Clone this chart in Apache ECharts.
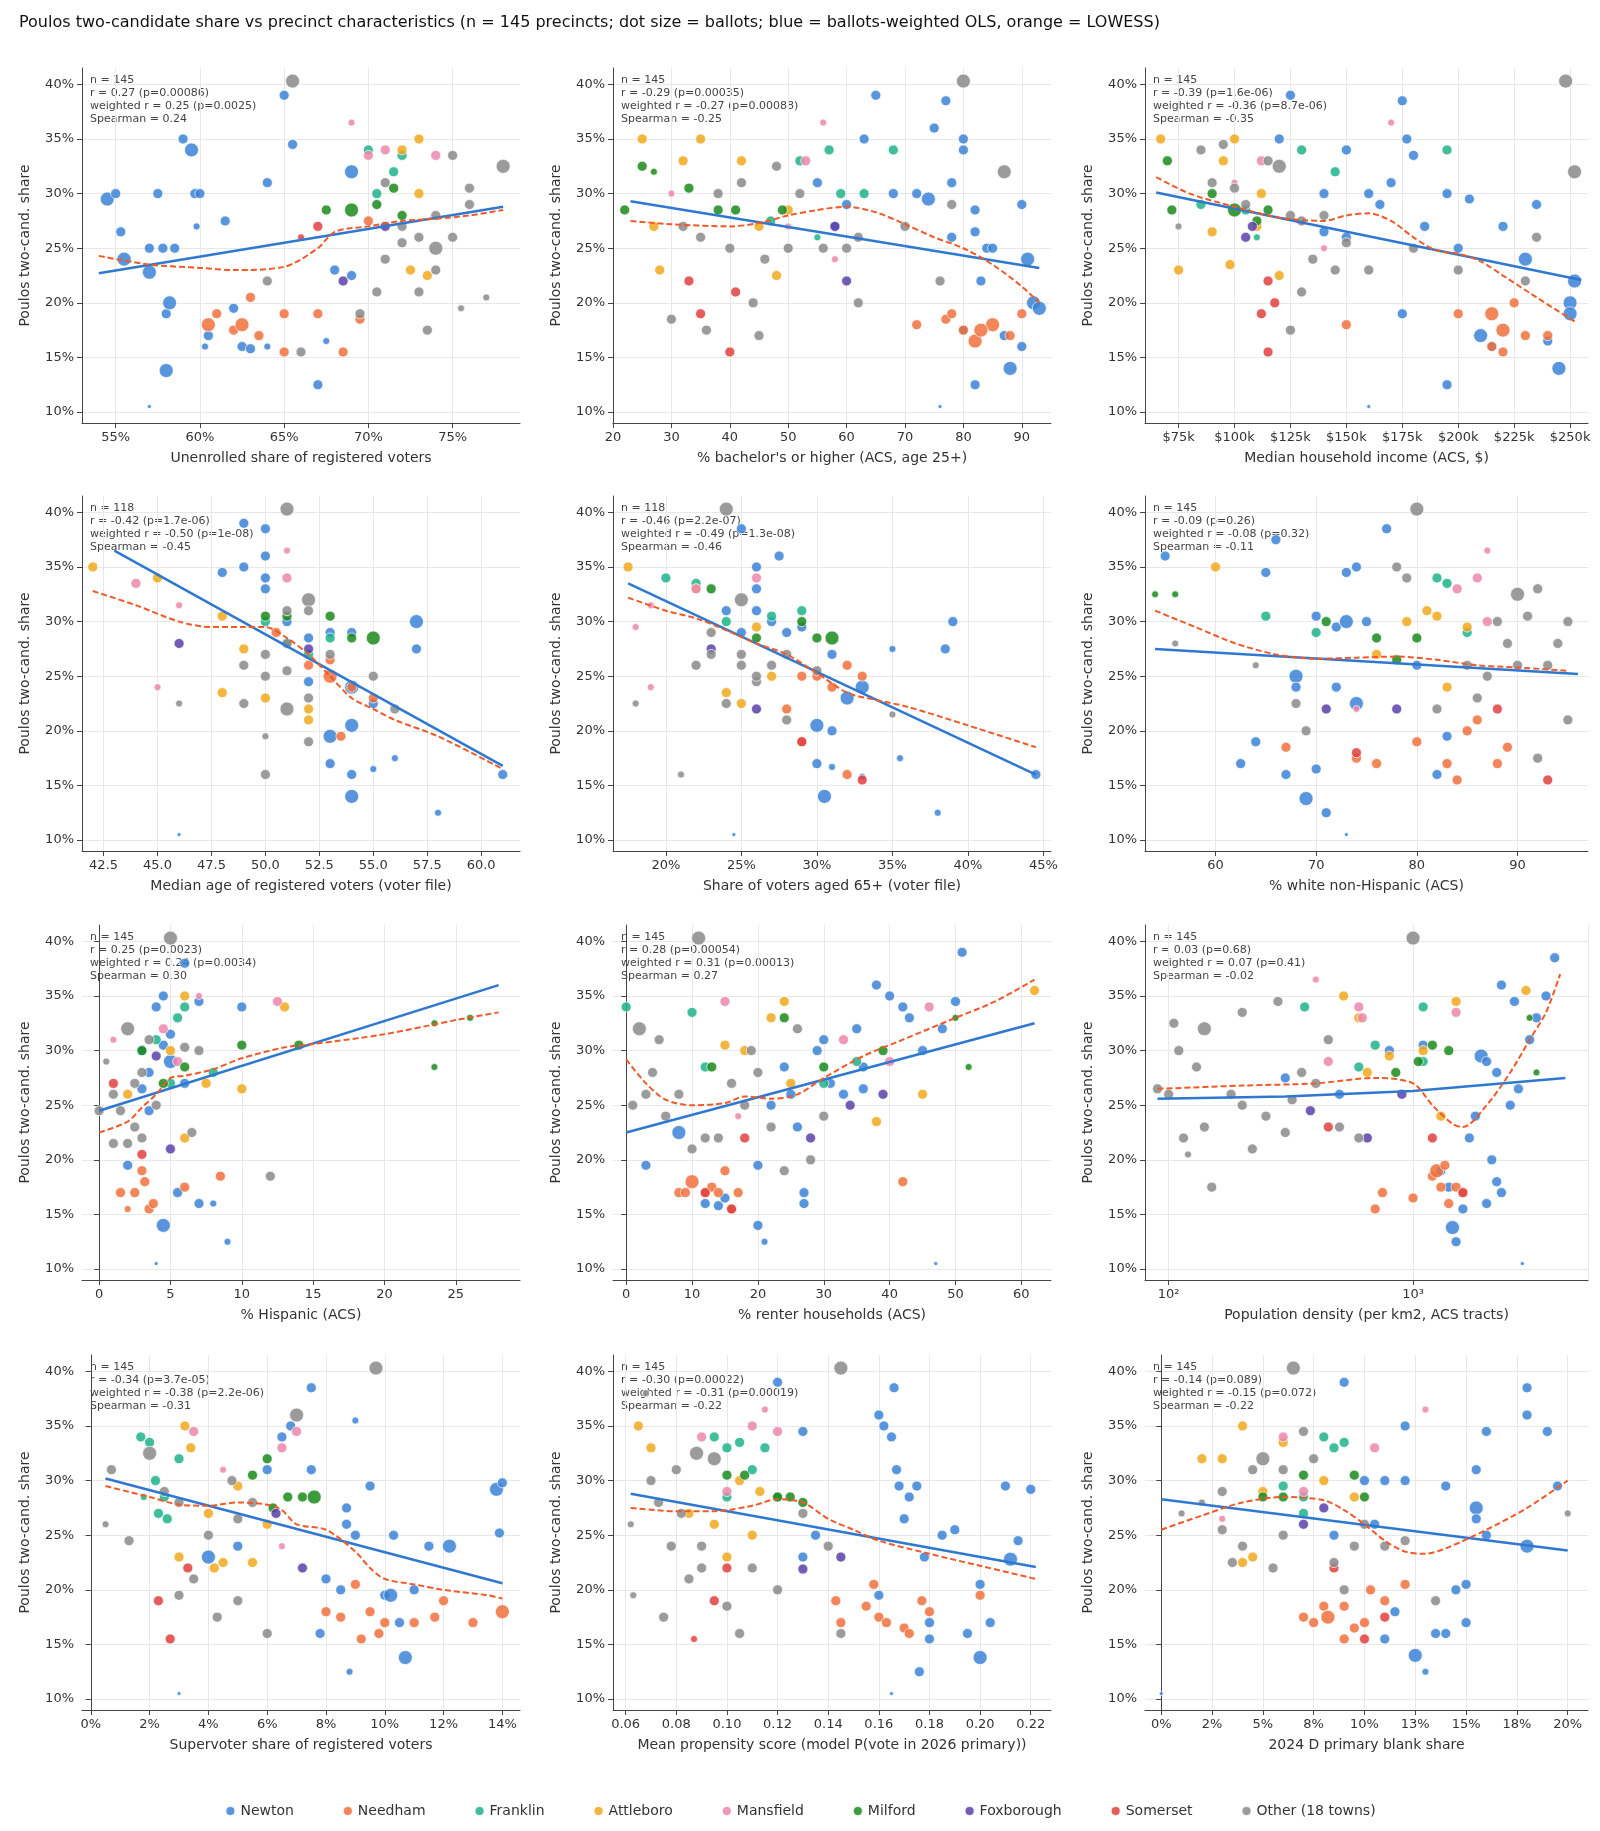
<!DOCTYPE html>
<html><head><meta charset="utf-8">
<script src="https://cdn.jsdelivr.net/npm/echarts@6/dist/echarts.min.js"></script>
<style>html,body{margin:0;padding:0;background:#fff}#c{width:1600px;height:1831px}</style>
</head><body><div id="c"></div>
<script>
var towns = ['Newton','Needham','Franklin','Attleboro','Mansfield','Milford','Foxborough','Somerset','Other (18 towns)'];
var townColors = ['#3b82d6','#f0703c','#1fb28a','#f0a81c','#ec87ae','#1a8a1a','#5a3fa8','#e04040','#8a8a8a'];

// each panel: points grouped by town, [x, y (%), size class]
var p1 = [
 [[54.5,29.5,3],[55,30,2],[55.3,26.5,2],[55.5,24,3],[57,22.8,3],[57,25,2],[57.5,30,2],[57.8,25,2],[58,19,2],[58,13.8,3],[58.2,20,3],[58.5,25,2],[59,35,2],[59.5,34,3],[59.7,30,2],[59.8,27,1],[60,30,2],[60.3,16,1],[60.5,17,2],[61.5,27.5,2],[62,19.5,2],[62.5,16,2],[63,15.8,2],[64,31,2],[64,16,1],[65.5,34.5,2],[65,39,2],[67,12.5,2],[67.5,16.5,1],[68,23,2],[69,32,3],[69,22.5,2],[57,10.5,0.5]],
 [[60.5,18,3],[61,19,2],[62,17.5,2],[62.5,18,3],[63,20.5,2],[63.5,17,2],[65,15.5,2],[65,19,2],[67,19,2],[68.5,15.5,2],[69.5,18.5,2],[70,27.5,2]],
 [[70,34,2],[72,33.5,2],[70.5,30,2],[71.5,32,2]],
 [[72,34,2],[73,35,2],[72.5,23,2],[73.5,22.5,2],[73,30,2]],
 [[69,36.5,1],[70,33.5,2],[71,34,2],[74,33.5,2]],
 [[67.5,28.5,2],[69,28.5,3],[71.5,30.5,2],[72,28,2],[70.5,29,2]],
 [[68.5,22,2],[71,27,2]],
 [[66,26,1],[67,27,2]],
 [[65.5,40.3,3],[71,31,2],[72,27,2],[73,26,2],[74,28,2],[74,25,3],[75,26,2],[75,33.5,2],[76,29,2],[76,30.5,2],[77,20.5,1],[78,32.5,3],[72,25.5,2],[73.5,17.5,2],[75.5,19.5,1],[70.5,21,2],[69.5,19,2],[64,22,2],[66,15.5,2],[71,24,2],[73,21,2],[74,23,2]]
];
var p1ols = [[54,22.7],[78,28.8]];
var p1low = [[54,24.3],[57,23.5],[60,23.2],[62,23],[65,23.3],[67,25],[68,26.5],[70,27],[72,27.5],[74,27.7],[76,28],[78,28.5]];

var p2 = [
 [[55,31,2],[60,29,2],[63,35,2],[65,39,2],[68,30,2],[72,30,2],[74,29.5,3],[75,36,2],[77,38.5,2],[78,26,2],[78,31,2],[80,35,2],[80,34,2],[82,28.5,2],[82,26.5,2],[83,22,2],[84,25,2],[85,25,2],[87,17,2],[88,14,3],[90,29,2],[91,24,3],[92,20,3],[93,19.5,3],[90,16,2],[80,17.5,2],[82,12.5,2],[76,10.5,0.5],[58,27,2]],
 [[72,18,2],[77,18.5,2],[78,19,2],[80,17.5,2],[82,16.5,3],[85,18,3],[88,17,2],[90,19,2],[83,17.5,3]],
 [[47,27.5,2],[52,33,2],[57,34,2],[59,30,2],[63,30,2],[68,34,2],[55,26,1]],
 [[25,35,2],[28,23,2],[32,33,2],[35,35,2],[42,33,2],[45,27,2],[50,28.5,2],[48,22.5,2],[27,27,2]],
 [[30,30,1],[50,27,1],[53,33,2],[56,36.5,1],[58,24,1]],
 [[25,32.5,2],[27,32,1],[33,30.5,2],[38,28.5,2],[41,28.5,2],[49,28.5,2],[22,28.5,2]],
 [[60,22,2],[58,27,2]],
 [[33,22,2],[40,15.5,2],[35,19,2],[41,21,2]],
 [[30,18.5,2],[32,27,2],[35,26,2],[36,17.5,2],[38,30,2],[40,25,2],[42,31,2],[44,20,2],[46,24,2],[48,32.5,2],[50,25,2],[52,30,2],[56,25,2],[60,25,2],[62,26,2],[70,27,2],[76,22,2],[78,29,2],[80,40.3,3],[87,32,3],[62,20,2],[45,17,2]]
];
var p2ols = [[23,29.3],[93,23.2]];
var p2low = [[23,27.5],[30,27.2],[40,27],[45,27.3],[50,28],[55,28.5],[60,28.8],[65,28.3],[70,27.2],[75,26],[80,25],[85,23.5],[90,21.5],[93,20]];

var p3 = [
 [[120,35,2],[125,39,2],[140,30,2],[150,34,2],[160,30,2],[165,29,2],[170,31,2],[175,38.5,2],[177,35,2],[180,33.5,2],[185,27,2],[195,30,2],[200,25,2],[205,29.5,2],[210,17,3],[215,16,2],[220,27,2],[230,24,3],[235,29,2],[240,16.5,2],[245,14,3],[250,20,3],[250,19,3],[252,22,3],[195,12.5,2],[160,10.5,0.5],[175,19,2],[150,26,2],[140,26.5,2]],
 [[150,18,2],[200,19,2],[215,19,3],[215,16,2],[220,17.5,3],[225,20,2],[230,17,2],[240,17,2],[220,15.5,2]],
 [[85,29,2],[105,28.5,2],[130,34,2],[145,32,2],[195,34,2],[110,26,1]],
 [[67,35,2],[75,23,2],[90,26.5,2],[95,33,2],[100,35,2],[98,23.5,2],[110,27,2],[120,22.5,2],[112,30,2]],
 [[100,31,1],[112,33,2],[170,36.5,1],[140,25,1]],
 [[70,33,2],[90,30,2],[100,28.5,3],[110,27.5,2],[115,28.5,2],[72,28.5,2]],
 [[105,26,2],[108,27,2]],
 [[112,19,2],[115,15.5,2],[118,20,2],[115,22,2]],
 [[85,34,2],[90,31,2],[95,34.5,2],[100,30.5,2],[105,29,2],[115,33,2],[120,32.5,3],[125,28,2],[130,27.5,2],[135,24,2],[140,28,2],[145,23,2],[150,25.5,2],[160,23,2],[180,25,2],[200,23,2],[230,22,2],[235,26,2],[248,40.3,3],[252,32,3],[75,27,1],[125,17.5,2],[130,21,2]]
];
var p3ols = [[65,30.1],[255,22.1]];
var p3low = [[65,31.5],[80,30],[100,28.8],[120,27.8],[140,27.5],[150,28],[160,28.2],[170,27.5],[180,26],[190,24.8],[200,24.5],[210,23.8],[220,22.5],[235,20.5],[252,18.3]];

var p4 = [
 [[48,34.5,2],[49,35,2],[49,39,2],[50,34,2],[50,33,2],[50,38.5,2],[51,30,2],[52,28.5,2],[52,24.5,2],[53,29,2],[53,19.5,3],[53,17,2],[54,29,2],[54,24,3],[54,20.5,3],[54,16,2],[54,14,3],[55,22.5,2],[55,16.5,1],[56,17.5,1],[57,30,3],[57,27.5,2],[58,12.5,1],[61,16,2],[46,10.5,0.5],[50,36,2]],
 [[50.5,29,2],[52,26,2],[53,25,3],[53,26.5,2],[54,24,2],[55,23,2],[53.5,19.5,2]],
 [[50,30,2],[52,27,2],[53,28.5,2],[51,28,2]],
 [[42,35,2],[45,34,2],[48,30.5,2],[48,23.5,2],[49,27.5,2],[50,23,2],[52,22,2],[52,21,2]],
 [[44,33.5,2],[45,24,1],[46,31.5,1],[51,36.5,1],[51,34,2]],
 [[50,30.5,2],[51,30.5,2],[53,30.5,2],[54,28.5,2],[55,28.5,3]],
 [[46,28,2],[52,27.5,2]],
 [],
 [[46,22.5,1],[49,26,2],[49,22.5,2],[50,25,2],[50,19.5,1],[50,16,2],[51,40.3,3],[51,31,2],[51,28,2],[51,25.5,2],[51,22,3],[52,32,3],[52,31,2],[52,23,2],[53,27,2],[55,25,2],[56,22,2],[52,19,2],[50,27,2]]
];
var p4ols = [[43,36.5],[61,16.8]];
var p4low = [[42,32.8],[44,31.5],[46,30],[47.5,29.5],[49,29.5],[50,29.5],[51,28.5],[52,27],[53,25],[54,23],[55,22],[56,21],[58,19.5],[61,16.5]];

var p5 = [
 [[24,31,2],[25,29,2],[26,33,2],[26,31,2],[27,30,2],[27.5,36,2],[28,29,2],[29,29.5,2],[30,20.5,3],[30,17,2],[30.5,14,3],[31,27,2],[31,20,2],[31,16.7,1],[32,23,3],[33,15.8,1],[33,24,3],[35,27.5,1],[35.5,17.5,1],[38,12.5,1],[38.5,27.5,2],[39,30,2],[44.5,16,2],[24.5,10.5,0.5],[25,38.5,2],[26,35,2]],
 [[28,22,2],[29,19,2],[30,25,2],[31,24,2],[32,26,2],[32,16,2],[33,25,2],[29,25,2]],
 [[20,34,2],[22,33.5,2],[27,30.5,2],[29,31,2],[24,30,2]],
 [[17.5,35,2],[22,33,2],[24,23.5,2],[25,22.5,2],[26,29.5,2],[27,25,2]],
 [[18,29.5,1],[19,24,1],[19,31.5,1],[22,33,2],[26,34,2]],
 [[23,33,2],[29,30,2],[30,28.5,2],[31,28.5,3],[26,28.5,2]],
 [[23,27.5,2],[26,22,2]],
 [[29,19,2],[33,15.5,2]],
 [[18,22.5,1],[21,16,1],[22,26,2],[23,27,2],[24,40.3,3],[25,27,2],[25,26,2],[26,24.5,2],[27,26,2],[28,21,2],[28,27,2],[24,22.5,2],[25,32,3],[26,25,2],[35,21.5,1],[30,25.5,2],[23,29,2]]
];
var p5ols = [[17.5,33.5],[44.5,16]];
var p5low = [[17.5,32.2],[20,31],[22,30.3],[24,29.2],[26,28],[28,27],[30,25.3],[32,23.5],[34,22.8],[36,22.2],[40,20.5],[44.5,18.5]];

var p6 = [
 [[55,36,2],[62.5,17,2],[64,19,2],[65,34.5,2],[66,37.5,2],[67,16,2],[68,25,3],[68,24,2],[69,13.8,3],[70,16.5,2],[70,30.5,2],[71,12.5,2],[72,29.5,2],[72,24,2],[73,30,3],[73,10.5,0.5],[74,35,2],[74,22.5,3],[75,30,2],[77,38.5,2],[80,26,2],[82,16,2],[83,19.5,2],[73,34.5,2]],
 [[67,18.5,2],[74,17.5,2],[76,17,2],[80,19,2],[83,17,2],[84,15.5,2],[85,20,2],[88,17,2],[89,18.5,2],[86,21,2]],
 [[65,30.5,2],[70,29,2],[82,34,2],[83,33.5,2],[85,29,2]],
 [[60,35,2],[76,27,2],[79,30,2],[81,31,2],[82,30.5,2],[83,24,2],[85,29.5,2]],
 [[74,22,1],[84,33,2],[86,34,2],[87,36.5,1],[87,30,2]],
 [[54,32.5,1],[56,32.5,1],[71,30,2],[76,28.5,2],[80,28.5,2],[78,26.5,2]],
 [[71,22,2],[78,22,2]],
 [[74,18,2],[88,22,2],[93,15.5,2]],
 [[56,28,1],[64,26,1],[68,22.5,2],[69,20,2],[78,35,2],[79,34,2],[80,40.3,3],[82,22,2],[85,26,2],[87,25,2],[88,30,2],[89,28,2],[90,32.5,3],[91,30.5,2],[92,33,2],[93,26,2],[94,28,2],[95,30,2],[95,21,2],[92,17.5,2],[90,26,2],[86,23,2]]
];
var p6ols = [[54,27.5],[96,25.2]];
var p6low = [[54,31],[58,29.5],[62,28],[66,27],[70,26.6],[74,26.7],[78,26.8],[82,26.5],[86,26],[90,25.8],[95,25.5]];

var p7 = [
 [[2,19.5,2],[3,26.5,2],[3.5,24.5,2],[3.5,28,2],[4,34,2],[4.5,35,2],[4.5,14,3],[4.5,30.5,2],[5,31.5,2],[5,29,3],[5.5,17,2],[6,27,2],[6,38,2],[7,16,2],[7,34.5,2],[8,16,1],[9,12.5,1],[10,34,2],[4,10.5,0.5],[3,30,2]],
 [[1.5,17,2],[2.5,17,2],[3,19,2],[3.2,18,2],[3.5,15.5,2],[3.8,16,2],[6,17.5,2],[8.5,18.5,2],[2,15.5,1]],
 [[4,31,2],[5.5,33,2],[6,34,2],[8,28,2],[5,27,2]],
 [[2,26,2],[5,30,2],[6,35,2],[7.5,27,2],[10,26.5,2],[13,34,2],[6,22,2]],
 [[1,31,1],[4.5,32,2],[5.5,29,2],[7,35,1],[12.5,34.5,2]],
 [[3,30,2],[4.5,27,2],[6,28.5,2],[10,30.5,2],[14,30.5,2],[23.5,32.5,1],[23.5,28.5,1],[26,33,1]],
 [[4,29.5,2],[5,21,2]],
 [[1,27,2],[3,20.5,2]],
 [[0,24.5,2],[0.5,29,1],[1,21.5,2],[1.5,24.5,2],[2,32,3],[2.5,23,2],[3,28,2],[3,22,2],[3.5,31,2],[4,25,2],[5,40.3,3],[6,30.3,2],[7,30,2],[6.5,22.5,2],[12,18.5,2],[1,26,2],[2,21.5,2],[2.5,27,2]]
];
var p7ols = [[0,24.5],[28,36]];
var p7low = [[0,22.5],[2,23.5],[3,24.8],[4,26],[5,27.5],[6,27.7],[8,28.3],[10,29.3],[13,30.3],[15,30.6],[20,31.5],[25,32.8],[28,33.5]];

var p8 = [
 [[3,19.5,2],[8,22.5,3],[12,16,2],[14,15.8,2],[15,16.5,2],[20,14,2],[21,12.5,1],[22,25,2],[24,28.5,2],[25,26,2],[26,23,2],[27,17,2],[27,16,2],[29,30,2],[30,31,2],[31,27,2],[33,26,2],[35,32,2],[36,28.5,2],[38,36,2],[40,35,2],[42,34,2],[43,33,2],[45,30,2],[48,32,2],[50,34.5,2],[51,39,2],[47,10.5,0.5],[20,19.5,2],[36,26.5,2]],
 [[8,17,2],[9,17,2],[10,18,3],[12,17,2],[13,17.5,2],[14,17,2],[15,19,2],[16,15.5,2],[17,17,2],[42,18,2]],
 [[0,34,2],[10,33.5,2],[12,28.5,2],[30,27,2],[35,29,2]],
 [[15,30.5,2],[18,30,2],[22,33,2],[24,34.5,2],[38,23.5,2],[45,26,2],[62,35.5,2],[25,27,2]],
 [[15,34.5,2],[17,24,1],[33,31,2],[40,29,2],[46,34,2]],
 [[13,28.5,2],[24,33,2],[30,28.5,2],[39,30,2],[50,33,1],[52,28.5,1]],
 [[28,22,2],[34,25,2],[39,26,2]],
 [[12,17,2],[16,15.5,2],[18,22,2]],
 [[1,25,2],[2,32,3],[3,26,2],[4,28,2],[6,24,2],[8,26,2],[10,21,2],[11,40.3,3],[12,22,2],[14,22,2],[16,27,2],[18,25,2],[19,30,2],[20,28,2],[22,23,2],[26,32,2],[28,20,2],[30,24,2],[24,19,2],[5,31,2]]
];
var p8ols = [[0,22.5],[62,32.5]];
var p8low = [[0,29.2],[3,27],[6,25.5],[10,25],[15,25.2],[18,25.8],[22,25.6],[26,26],[30,27.5],[36,29.5],[42,31],[50,33],[56,34.5],[62,36.5]];

var p9 = [
 [[300,27.5,2],[500,26,2],[800,30,2],[1100,30.5,2],[1300,19,2],[1400,17.5,2],[1450,13.8,3],[1500,12.5,2],[1600,15.5,2],[1700,22,2],[1800,24,2],[1900,29.5,3],[2000,29,2],[2100,20,2],[2200,28,2],[2300,36,2],[2500,25,2],[2600,34.5,2],[2700,26.5,2],[3000,31,2],[3200,33,2],[3800,38.5,2],[3500,35,2],[2300,17,2],[2000,16,2],[2800,10.5,0.5],[2200,18,2]],
 [[700,15.5,2],[750,17,2],[1000,16.5,2],[1200,18.5,2],[1250,19,3],[1300,17.5,2],[1400,16,2],[1500,17.5,2],[1350,19.5,2],[1600,17,2]],
 [[360,34,2],[600,28.5,2],[700,30.5,2],[1100,34,2],[1100,29,2]],
 [[520,35,2],[650,28,2],[800,29.5,2],[1100,30,2],[1500,34.5,2],[2900,35.5,2],[1300,24,2],[600,33,2]],
 [[400,36.5,1],[450,29,2],[600,34,2],[620,33,2],[1500,33.5,2]],
 [[850,28,2],[1050,29,2],[1200,30.5,2],[1400,30,2],[3000,33,1],[3200,28,1]],
 [[380,24.5,2],[650,22,2],[900,26,2]],
 [[450,23,2],[1200,22,2],[1600,17,2]],
 [[90,26.5,2],[100,26,2],[105,32.5,2],[110,30,2],[115,22,2],[120,20.5,1],[130,28.5,2],[140,32,3],[150,17.5,2],[180,26,2],[200,25,2],[220,21,2],[250,24,2],[280,34.5,2],[320,25.5,2],[350,28,2],[400,27,2],[450,31,2],[500,23,2],[600,22,2],[1000,40.3,3],[300,22.5,2],[200,33.5,2],[140,23,2]]
];
var p9ols = [[90,25.6],[300,25.8],[1000,26.3],[4200,27.5]];
var p9low = [[90,26.5],[200,26.8],[400,27],[700,27.5],[1000,27],[1200,25],[1450,23.3],[1600,23],[2000,25],[2500,28],[3000,31],[3500,33.5],[4000,37]];

var p10 = [
 [[6,31,2],[6.5,34,2],[6.8,35,2],[7.5,38.5,2],[7.5,31,2],[8,21,2],[8.5,20,2],[8.7,27.5,2],[8.7,26,2],[8.8,12.5,1],[9,35.5,1],[9,25,2],[9.5,29.5,2],[10,19.5,2],[10.2,19.5,3],[10.3,25,2],[10.5,17,2],[10.7,13.8,3],[11,20,2],[11.5,24,2],[12.2,24,3],[13.8,29.2,3],[13.9,25.2,2],[14,29.8,2],[7.8,16,2],[3,10.5,0.5],[4,23,3],[5,24,2]],
 [[8.5,17.5,2],[9,20.5,2],[9.5,18,2],[9.8,16,2],[10,17,2],[11,17,2],[11.7,17.5,2],[12,19,2],[13,17,2],[14,18,3],[8,18,2],[9.2,15.5,2]],
 [[1.7,34,2],[2,33.5,2],[2.2,30,2],[2.5,28.5,2],[2.3,27,2],[2.6,26.5,2],[3,32,2],[1.8,28.5,1]],
 [[3.2,35,2],[3.4,33,2],[3,23,2],[4,27,2],[4.2,22,2],[4.5,22.5,2],[5.5,22.5,2],[5,29.5,2],[6,26,2]],
 [[3.5,34.5,2],[4.5,31,1],[6.5,24,1],[6.5,33,2],[7,34.5,2]],
 [[5.5,30.5,2],[6,32,2],[6.7,28.5,2],[7.2,28.5,2],[7.6,28.5,3],[6.2,27.5,2]],
 [[6.3,27,2],[7.2,22,2]],
 [[2.3,19,2],[2.7,15.5,2],[3.3,22,2]],
 [[0.5,26,1],[0.7,31,2],[1.3,24.5,2],[2,32.5,3],[2.5,29,2],[3,28,2],[3,19.5,2],[3.5,21,2],[4,25,2],[4.3,17.5,2],[5,26.5,2],[5,19,2],[6,16,2],[7,36,3],[9.7,40.3,3],[5.5,28,2],[4.8,30,2]]
];
var p10ols = [[0.5,30.2],[14,20.6]];
var p10low = [[0.5,29.5],[2,28.5],[3,27.8],[4,27.7],[5,28],[6,27.8],[6.5,27.3],[7,26],[8,25.5],[9,23.5],[9.5,22],[10,21],[11,20.5],[12,20],[13.5,19.5],[14,19.2]];

var p11 = [
 [[0.12,39,2],[0.13,34.5,2],[0.13,23,2],[0.135,25,2],[0.16,36,2],[0.162,35,2],[0.165,34,2],[0.166,38.5,2],[0.167,31,2],[0.168,29.5,2],[0.17,26.5,2],[0.172,28.5,2],[0.175,29.5,2],[0.176,12.5,2],[0.178,23,2],[0.18,15.5,2],[0.185,25,2],[0.19,25.5,2],[0.195,16,2],[0.2,13.8,3],[0.2,20.5,2],[0.204,17,2],[0.21,29.5,2],[0.212,22.8,3],[0.215,24.5,2],[0.22,29.2,2],[0.165,10.5,0.5],[0.16,19.5,2],[0.18,17,2]],
 [[0.143,19,2],[0.155,18.5,2],[0.158,20.5,2],[0.16,17.5,2],[0.163,17,2],[0.17,16.5,2],[0.172,16,2],[0.177,19,2],[0.18,18,2],[0.2,19.5,2],[0.145,17,2]],
 [[0.095,34,2],[0.1,33,2],[0.105,33.5,2],[0.11,31,2],[0.1,28.5,2],[0.115,33,2],[0.12,28.5,2]],
 [[0.065,35,2],[0.07,33,2],[0.085,27,2],[0.095,26,2],[0.1,23,2],[0.105,30,2],[0.113,29,2],[0.11,25,2]],
 [[0.09,34,2],[0.1,29,2],[0.11,35,2],[0.115,36.5,1],[0.12,34.5,2]],
 [[0.1,30.5,2],[0.107,30.5,2],[0.12,28.5,2],[0.125,28.5,2],[0.13,28,2]],
 [[0.13,21.9,2],[0.145,23,2]],
 [[0.087,15.5,1],[0.095,19,2],[0.1,22,2]],
 [[0.062,26,1],[0.063,19.5,1],[0.068,38,1],[0.07,30,2],[0.073,28,2],[0.075,17.5,2],[0.08,31,2],[0.082,27,2],[0.085,21,2],[0.088,32.5,3],[0.09,24,2],[0.095,32,3],[0.1,18.5,2],[0.105,16,2],[0.11,22,2],[0.12,20,2],[0.13,27,2],[0.14,24,2],[0.145,40.3,3],[0.145,16,2],[0.078,24,2],[0.09,22,2]]
];
var p11ols = [[0.062,28.8],[0.222,22.1]];
var p11low = [[0.062,27.5],[0.08,27.2],[0.095,27.2],[0.11,27.7],[0.12,28.3],[0.13,28],[0.14,26.5],[0.15,25.5],[0.16,24.5],[0.18,23.3],[0.2,22.2],[0.222,21]];

var p12 = [
 [[0,10.5,0.5],[9,39,2],[10,30,2],[11,30,2],[12,35,2],[12,30,2],[12.5,14,3],[13,12.5,1],[13.5,16,2],[14,29.5,2],[14.5,20,2],[15,17,2],[15,20.5,2],[15.5,31,2],[15.5,27.5,3],[15.5,26.5,2],[16,34.5,2],[16,25,2],[18,38.5,2],[18,36,2],[18,24,3],[19,34.5,2],[19.5,29.5,2],[11,15.5,2],[14,16,2],[10.5,26,2],[8.5,25,2],[11.5,18,2]],
 [[7,17.5,2],[7.5,17,2],[8,18.5,2],[8.2,17.5,3],[9,15.5,2],[9.5,16.5,2],[10,17,2],[10.3,20,2],[11,19,2],[12,20.5,2],[9,18.5,2]],
 [[6,29.5,2],[7,28.5,2],[8,34,2],[8.5,33,2],[9,33.5,2],[7,27,2]],
 [[2,32,2],[3,32,2],[4,35,2],[4,22.5,2],[4.5,23,2],[5,29,2],[6,33.5,2],[8,30,2],[9.5,28.5,2]],
 [[3,26.5,1],[6,34,2],[7,29,2],[10.5,33,2],[13,36.5,1]],
 [[5,28.5,2],[6,28.5,2],[7,30.5,2],[9.5,30.5,2],[10,28.5,2]],
 [[7,26,2],[8,27.5,2]],
 [[8.5,22,2],[10,15.5,2],[11,17.5,2]],
 [[1,27,1],[2,28,1],[3,29,2],[3.5,22.5,2],[4,24,2],[4.5,31,2],[5,32,3],[5.5,22,2],[6,25,2],[6.5,40.3,3],[7,34.5,2],[7.5,32,2],[8.5,22.5,2],[9,20,2],[9.5,24,2],[10,26,2],[11,24,2],[12,24.5,2],[13.5,19,2],[20,27,1],[3,25.5,2],[6,31,2]]
];
var p12ols = [[0,28.3],[20,23.6]];
var p12low = [[0,25.5],[2,26.8],[4,28],[6,28.5],[8,28.2],[9,27.3],[10,26],[11,24.5],[12,23.5],[13,23.3],[14,23.8],[16,25.5],[18,27.5],[20,30]];

var stats = [
 ['n = 145','r = 0.27 (p=0.00086)','weighted r = 0.25 (p=0.0025)','Spearman = 0.24'],
 ['n = 145','r = -0.29 (p=0.00035)','weighted r = -0.27 (p=0.00088)','Spearman = -0.25'],
 ['n = 145','r = -0.39 (p=1.6e-06)','weighted r = -0.36 (p=8.7e-06)','Spearman = -0.35'],
 ['n = 118','r = -0.42 (p=1.7e-06)','weighted r = -0.50 (p=1e-08)','Spearman = -0.45'],
 ['n = 118','r = -0.46 (p=2.2e-07)','weighted r = -0.49 (p=1.3e-08)','Spearman = -0.46'],
 ['n = 145','r = -0.09 (p=0.26)','weighted r = -0.08 (p=0.32)','Spearman = -0.11'],
 ['n = 145','r = 0.25 (p=0.0023)','weighted r = 0.24 (p=0.0034)','Spearman = 0.30'],
 ['n = 145','r = 0.28 (p=0.00054)','weighted r = 0.31 (p=0.00013)','Spearman = 0.27'],
 ['n = 145','r = 0.03 (p=0.68)','weighted r = 0.07 (p=0.41)','Spearman = -0.02'],
 ['n = 145','r = -0.34 (p=3.7e-05)','weighted r = -0.38 (p=2.2e-06)','Spearman = -0.31'],
 ['n = 145','r = -0.30 (p=0.00022)','weighted r = -0.31 (p=0.00019)','Spearman = -0.22'],
 ['n = 145','r = -0.14 (p=0.089)','weighted r = -0.15 (p=0.072)','Spearman = -0.22']
];
var xNames = ['Unenrolled share of registered voters',"% bachelor's or higher (ACS, age 25+)",'Median household income (ACS, $)',
 'Median age of registered voters (voter file)','Share of voters aged 65+ (voter file)','% white non-Hispanic (ACS)',
 '% Hispanic (ACS)','% renter households (ACS)','Population density (per km2, ACS tracts)',
 'Supervoter share of registered voters','Mean propensity score (model P(vote in 2026 primary))','2024 D primary blank share'];
var yTicks = [10,15,20,25,30,35,40];
var blankLabels = {0:'0%',2.5:'2%',5:'5%',7.5:'8%',10:'10%',12.5:'13%',15:'15%',17.5:'18%',20:'20%'};

function range(a,b,s){var r=[];for(var v=a;v<=b+1e-9;v+=s)r.push(+v.toFixed(4));return r;}
var xAxes = [
 {min:53,max:79,ticks:range(55,75,5),fmt:function(v){return v+'%';}},
 {min:20,max:95,ticks:range(20,90,10),fmt:function(v){return v;}},
 {min:60,max:258,ticks:range(75,250,25),fmt:function(v){return '$'+v+'k';}},
 {min:41.5,max:61.8,ticks:range(42.5,60,2.5),fmt:function(v){return v.toFixed(1);}},
 {min:16.5,max:45.5,ticks:range(20,45,5),fmt:function(v){return v+'%';}},
 {min:53,max:97,ticks:range(60,90,10),fmt:function(v){return v;}},
 {min:-1.2,max:29.5,ticks:range(0,25,5),fmt:function(v){return v;}},
 {min:-2,max:64.5,ticks:range(0,60,10),fmt:function(v){return v;}},
 {log:true,min:80,max:5200},
 {min:-0.3,max:14.6,ticks:range(0,14,2),fmt:function(v){return v+'%';}},
 {min:0.055,max:0.228,ticks:range(0.06,0.22,0.02),fmt:function(v){return v.toFixed(2);}},
 {min:-0.8,max:21,ticks:range(0,20,2.5),fmt:function(v){return blankLabels[v];}}
];
var panelData = [p1,p2,p3,p4,p5,p6,p7,p8,p9,p10,p11,p12];
var olsData = [p1ols,p2ols,p3ols,p4ols,p5ols,p6ols,p7ols,p8ols,p9ols,p10ols,p11ols,p12ols];
var lowData = [p1low,p2low,p3low,p4low,p5low,p6low,p7low,p8low,p9low,p10low,p11low,p12low];

var lefts = [82,613,1145], widths = [438,438,443], tops = [68,496,925,1355], H = 355;
var grids = [], xs = [], ys = [], series = [], graphics = [];
var sizeMap = {0.5:4,1:7,2:10,3:14};
for (var i = 0; i < 12; i++) {
  var c = i % 3, r = Math.floor(i / 3);
  grids.push({left:lefts[c], top:tops[r], width:widths[c], height:H});
  var ax = xAxes[i];
  var xa = {gridIndex:i, name:xNames[i], nameLocation:'middle', nameGap:28,
    nameTextStyle:{fontSize:14,color:'#333'},
    min:ax.min, max:ax.max,
    axisLine:{lineStyle:{color:'#444'}}, axisTick:{show:true,length:5,lineStyle:{color:'#444'}},
    axisLabel:{fontSize:13,color:'#333'},
    splitLine:{show:true,lineStyle:{color:'#e8e8e8'}}};
  if (ax.log) {
    xa.type = 'log'; xa.logBase = 10;
    xa.axisLabel.showMinLabel = false; xa.axisLabel.showMaxLabel = false;
    xa.axisLabel.formatter = function(v){return v==100?'10²':(v==1000?'10³':'');};
  } else {
    xa.type = 'value';
    xa.axisLabel.customValues = ax.ticks; xa.axisTick.customValues = ax.ticks;
    xa.axisLabel.formatter = ax.fmt;
  }
  xs.push(xa);
  ys.push({type:'value', gridIndex:i, min:9, max:41.5,
    name:'Poulos two-cand. share', nameLocation:'middle', nameGap:50,
    nameTextStyle:{fontSize:14,color:'#333'},
    axisLine:{show:true,lineStyle:{color:'#444'}}, axisTick:{show:true,length:5,customValues:yTicks,lineStyle:{color:'#444'}},
    axisLabel:{fontSize:13,color:'#333',customValues:yTicks,formatter:function(v){return v+'%';}},
    splitLine:{show:true,lineStyle:{color:'#e8e8e8'}}});
  for (var t = 0; t < towns.length; t++) {
    series.push({type:'scatter', name:towns[t], xAxisIndex:i, yAxisIndex:i,
      data:panelData[i][t],
      symbolSize:function(d){return sizeMap[d[2]];},
      itemStyle:{color:townColors[t], opacity:0.85, borderColor:'#fff', borderWidth:0.8}});
  }
  series.push({type:'line', name:'OLS', xAxisIndex:i, yAxisIndex:i, data:olsData[i], showSymbol:false,
    lineStyle:{color:'#2f78d0',width:2.5}, z:5, silent:true});
  series.push({type:'line', name:'LOWESS', xAxisIndex:i, yAxisIndex:i, data:lowData[i], showSymbol:false, smooth:0.3,
    lineStyle:{color:'#f05a28',width:2,type:[6,3]}, z:6, silent:true});
  graphics.push({type:'text', left:lefts[c]+8, top:tops[r]+6,
    style:{text:stats[i].join('\n'), fontSize:11, lineHeight:13, fill:'#444', fontFamily:'DejaVu Sans'}});
}

var chart = echarts.init(document.getElementById('c'));
chart.setOption({
  backgroundColor:'#fff',
  textStyle:{fontFamily:'DejaVu Sans'},
  animation:false,
  title:{text:'Poulos two-candidate share vs precinct characteristics (n = 145 precincts; dot size = ballots; blue = ballots-weighted OLS, orange = LOWESS)',
    left:14, top:10, textStyle:{fontSize:16,fontWeight:'normal',color:'#111'}},
  legend:{data:towns, bottom:8, left:'center', icon:'circle', itemWidth:10, itemHeight:10, itemGap:48,
    textStyle:{fontSize:14,color:'#333'}},
  grid:grids, xAxis:xs, yAxis:ys, series:series, graphic:graphics
});
</script></body></html>
